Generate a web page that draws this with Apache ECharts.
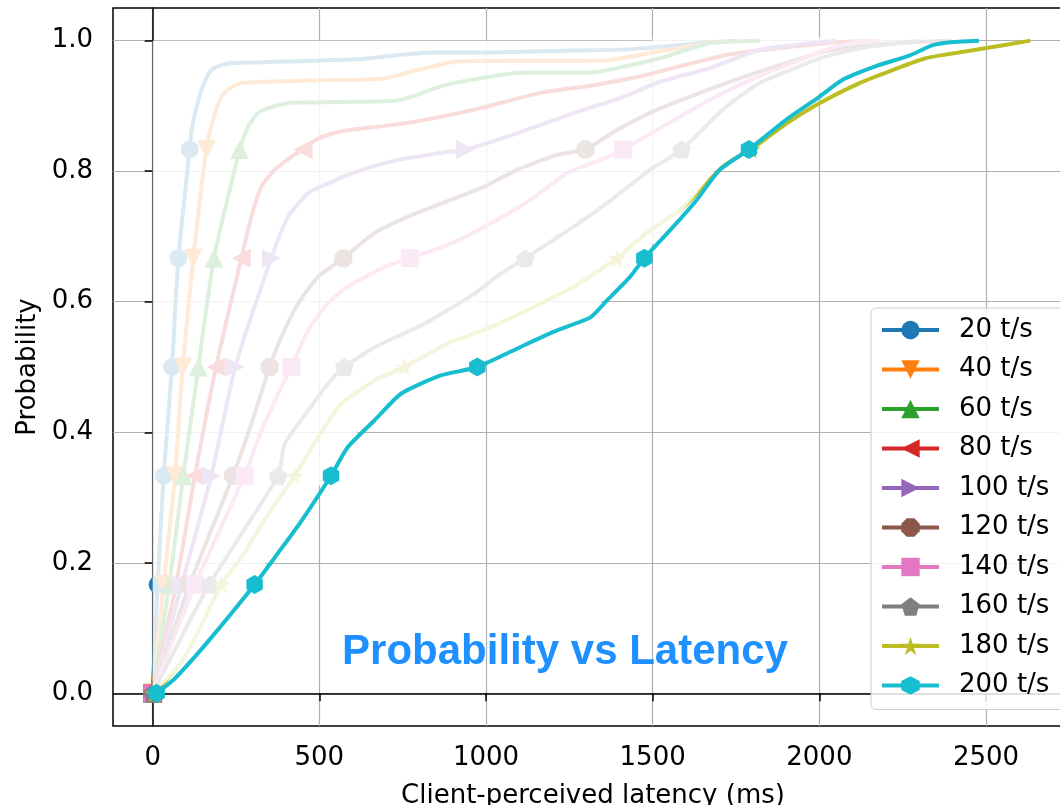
<!DOCTYPE html>
<html>
<head>
<meta charset="utf-8">
<script src="https://cdn.jsdelivr.net/npm/echarts@6/dist/echarts.min.js"></script>
<style>html,body{margin:0;padding:0;background:#fff}#c{width:1060px;height:805px}</style>
</head>
<body>
<div id="c"></div>
<script>
// ---------------- data ----------------
const seriesNames = ['20 t/s','40 t/s','60 t/s','80 t/s','100 t/s','120 t/s','140 t/s','160 t/s','180 t/s','200 t/s'];
const xTicks = [0, 500, 1000, 1500, 2000, 2500];
const yTicks = [0, 0.2, 0.4, 0.6, 0.8, 1.0];
const markerProbs = [0, 1/6, 2/6, 3/6, 4/6, 5/6];

const lat20 = [0, 15, 33, 58, 77, 111, 117, 132, 152, 176, 216, 266, 625, 834, 1014, 1262, 1441, 1663, 1750];
const p20   = [0, .1667, .3333, .5, .6667, .8333, .863, .899, .932, .955, .964, .966, .972, .982, .982, .985, .987, .997, 1];

const lat40 = [0, 33, 67, 90, 122, 161, 181, 206, 231, 266, 365, 595, 694, 765, 915, 1364, 1513, 1663, 1720];
const p40   = [0, .1667, .3333, .5, .6667, .8333, .879, .914, .927, .935, .9375, .940, .942, .951, .968, .970, .983, .996, 1];

const lat60 = [0, 50, 92, 137, 184, 261, 286, 316, 356, 416, 565, 744, 864, 993, 1112, 1313, 1411, 1522, 1671, 1821];
const p60   = [0, .1667, .3333, .5, .6667, .8333, .868, .889, .898, .905, .906, .909, .930, .943, .951, .951, .960, .973, .996, 1];

const lat80 = [0, 70, 127, 190, 266, 296, 326, 366, 416, 451, 496, 565, 765, 964, 1163, 1313, 1462, 1522, 1721, 1920, 2069, 2150];
const p80   = [0, .1667, .3333, .5, .6667, .730, .776, .802, .822, .8333, .850, .861, .874, .894, .920, .931, .945, .953, .978, .991, .998, 1];

const lat100 = [0, 87, 176, 248, 356, 406, 466, 525, 600, 715, 864, 939, 1064, 1263, 1413, 1522, 1671, 1821, 1970, 2050];
const p100   = [0, .1667, .3333, .5, .6667, .730, .766, .781, .797, .815, .828, .8333, .853, .889, .914, .937, .958, .986, .996, 1];

const lat120 = [0, 111, 241, 296, 351, 386, 436, 496, 572, 665, 765, 894, 994, 1093, 1213, 1298, 1393, 1512, 1721, 1871, 2020, 2170, 2300, 2395];
const p120   = [0, .1667, .3333, .413, .5, .546, .597, .638, .6667, .705, .730, .756, .776, .802, .825, .8333, .863, .894, .935, .961, .984, .994, .998, 1];

const lat140 = [0, 127, 276, 326, 386, 416, 466, 525, 585, 695, 772, 894, 1014, 1133, 1243, 1343, 1412, 1512, 1671, 1771, 1920, 2020, 2120, 2180];
const p140   = [0, .1667, .3333, .402, .469, .5, .556, .597, .623, .653, .6667, .689, .720, .756, .797, .817, .8333, .863, .909, .935, .966, .986, .999, 1];

const lat160 = [0, 170, 376, 396, 466, 525, 575, 665, 814, 964, 1044, 1118, 1263, 1363, 1492, 1587, 1721, 1821, 1941, 2020, 2140, 2240, 2300];
const p160   = [0, .1667, .3333, .382, .433, .474, .5, .530, .566, .612, .643, .6667, .715, .751, .802, .8333, .899, .935, .961, .976, .990, .996, 1];

const lat180 = [5, 87, 137, 206, 266, 346, 426, 496, 565, 665, 754, 894, 1014, 1163, 1263, 1393, 1462, 1522, 1582, 1651, 1721, 1795, 1901, 2000, 2120, 2220, 2319, 2469, 2633];
const p180   = [0, .049, .095, .1667, .208, .274, .3333, .392, .443, .479, .5, .538, .561, .597, .623, .6667, .697, .720, .740, .776, .812, .8333, .873, .904, .935, .955, .973, .986, 1];

const lat200 = [12, 67, 167, 306, 366, 446, 535, 585, 665, 745, 864, 974, 1113, 1213, 1313, 1363, 1432, 1475, 1562, 1632, 1701, 1789, 1901, 2000, 2070, 2170, 2270, 2340, 2400, 2479];
const p200   = [0, .023, .080, .1667, .208, .264, .3333, .377, .418, .459, .487, .5, .533, .556, .576, .602, .638, .6667, .715, .756, .802, .8333, .879, .914, .940, .961, .977, .993, .998, 1];

const latencies = [lat20, lat40, lat60, lat80, lat100, lat120, lat140, lat160, lat180, lat200];
const probs = [p20, p40, p60, p80, p100, p120, p140, p160, p180, p200];

// ---------------- styles ----------------
const colors = ['#1f77b4','#ff7f0e','#2ca02c','#d62728','#9467bd','#8c564b','#e377c2','#7f7f7f','#bcbd22','#17becf'];
const OCT = 'path://M92.4,38.3L38.3,92.4L-38.3,92.4L-92.4,38.3L-92.4,-38.3L-38.3,-92.4L38.3,-92.4L92.4,-38.3Z';
const PENT = 'path://M0,-100L95.1,-30.9L58.8,80.9L-58.8,80.9L-95.1,-30.9Z';
const STAR = 'path://M0,-100L22.5,-30.9L95.1,-30.9L36.3,11.8L58.8,80.9L0,38.2L-58.8,80.9L-36.3,11.8L-95.1,-30.9L-22.5,-30.9Z';
const HEX = 'path://M0,-100L86.6,-50L86.6,50L0,100L-86.6,50L-86.6,-50Z';
const symbols = [
  {s:'circle', r:0, size:18},
  {s:'triangle', r:180, size:19},
  {s:'triangle', r:0, size:19},
  {s:'triangle', r:90, size:19},
  {s:'triangle', r:-90, size:19},
  {s:OCT, r:0, size:18},
  {s:'rect', r:0, size:18},
  {s:PENT, r:0, size:19},
  {s:STAR, r:0, size:19},
  {s:HEX, r:0, size:19}
];
const FONT = 'DejaVu Sans';
const LW = 4;

function isMarker(p) { return markerProbs.some(m => Math.abs(p - m) < 0.002); }

const series = [];
seriesNames.forEach((name, i) => {
  const data = latencies[i].map((x, k) => [x, probs[i][k]]);
  const sym = symbols[i];
  series.push({
    name: name,
    type: 'line',
    data: data,
    z: i === 9 ? 4 : 2,
    smooth: 0.2,
    symbol: sym.s,
    symbolRotate: sym.r,
    symbolKeepAspect: true,
    symbolSize: (v) => isMarker(v[1]) ? sym.size : 0,
    showSymbol: true,
    lineStyle: { color: colors[i], width: LW },
    itemStyle: { color: colors[i], borderWidth: 0 },
    emphasis: { disabled: true },
    silent: true,
    animation: false
  });
});

// translucent white veil left of the 200 t/s curve
series.push({
  name: 'veil',
  type: 'custom',
  z: 3,
  silent: true,
  animation: false,
  data: [[0, 0]],
  renderItem: function (params, api) {
    const x0 = api.coord([0, 0])[0];
    const pts = [api.coord([0, 0])];
    for (let k = 0; k < lat200.length; k++) {
      const c = api.coord([lat200[k], p200[k]]);
      pts.push([Math.max(x0, c[0] - 5), c[1]]);
    }
    const last = pts[pts.length - 1];
    const mid = api.coord([1500, 1]);
    const top = api.coord([0, 1]);
    pts.push([last[0], last[1] - 3]);
    pts.push([mid[0], mid[1] - 3]);
    pts.push([mid[0], mid[1]]);
    pts.push([top[0], top[1]]);
    return {
      type: 'polygon',
      shape: { points: pts },
      style: { fill: 'rgba(255,255,255,0.84)' },
      silent: true
    };
  }
});

const chart = echarts.init(document.getElementById('c'), null, { renderer: 'canvas' });
chart.setOption({
  animation: false,
  backgroundColor: '#ffffff',
  grid: {
    left: 113, right: -13, top: 8, bottom: 79,
    outerBoundsMode: 'none',
    containLabel: false,
    show: true, borderColor: '#000', borderWidth: 1.5, backgroundColor: 'transparent'
  },
  xAxis: {
    type: 'value',
    min: -119, max: 2761,
    name: 'Client-perceived latency (ms)',
    nameLocation: 'middle',
    nameGap: 57,
    nameTextStyle: { fontFamily: FONT, fontSize: 26, color: '#000' },
    axisLine: { show: true, lineStyle: { color: '#000', width: 1.5 } },
    axisTick: { show: true, length: 8, customValues: xTicks, lineStyle: { color: '#000', width: 1.5 } },
    axisLabel: { customValues: xTicks, fontFamily: FONT, fontSize: 26, color: '#000', margin: 19,
      formatter: v => String(v) },
    splitLine: { show: true, lineStyle: { color: '#b0b0b0', width: 1.2 } }
  },
  yAxis: {
    type: 'value',
    min: -0.05, max: 1.05,
    name: 'Probability',
    nameLocation: 'middle',
    nameGap: 72,
    nameRotate: 90,
    nameTextStyle: { fontFamily: FONT, fontSize: 26, color: '#000' },
    axisLine: { show: true, lineStyle: { color: '#000', width: 1.5 } },
    axisTick: { show: true, length: 8, customValues: yTicks, lineStyle: { color: '#000', width: 1.5 } },
    axisLabel: { customValues: yTicks, fontFamily: FONT, fontSize: 26, color: '#000', margin: 20,
      formatter: v => v.toFixed(1) },
    splitLine: { show: true, lineStyle: { color: '#b0b0b0', width: 1.2 } }
  },
  legend: {
    data: seriesNames,
    orient: 'vertical',
    left: 871, top: 308,
    padding: [9, 40, 11, 9],
    itemWidth: 57, itemHeight: 23, itemGap: 13.5,
    backgroundColor: 'rgba(255,255,255,0.85)',
    borderColor: '#cccccc', borderWidth: 1, borderRadius: 5,
    lineStyle: { width: LW },
    textStyle: { fontFamily: FONT, fontSize: 26, color: '#000', lineHeight: 26, padding: [0, 0, 0, 15] },
    selectedMode: false,
    z: 10
  },
  graphic: [{
    type: 'text',
    x: 565, y: 652, z: 100,
    style: {
      text: 'Probability vs Latency',
      fill: '#1e90ff',
      font: 'bold 42px "Liberation Sans", Arial, sans-serif',
      textAlign: 'center', textVerticalAlign: 'middle'
    }
  }],
  series: series
});
</script>
</body>
</html>
